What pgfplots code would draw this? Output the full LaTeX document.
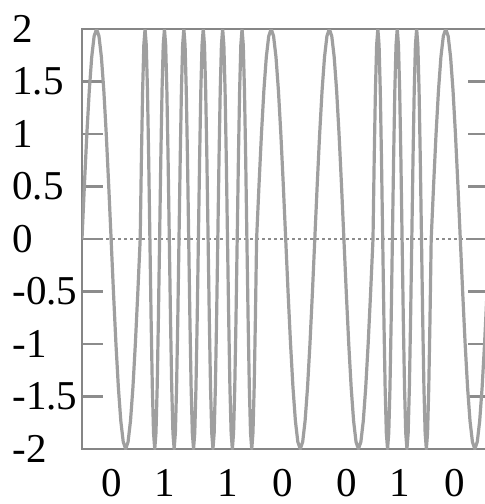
\documentclass[border=0pt]{standalone}
\usepackage{fontspec}
\setmainfont{Liberation Serif}
\usepackage{pgfplots}
\pgfplotsset{compat=1.18}
\begin{document}
\begin{tikzpicture}
\useasboundingbox (-41pt,-27.5pt) rectangle (201.5pt,224.5pt);
\begin{axis}[
  at={(0,0)}, anchor=south west,
  scale only axis, width=203.7pt, height=210pt,
  xmin=0, xmax=336, ymin=-2, ymax=2,
  axis line style={draw=gray!95, line width=1.3pt},
  xtick={24.5,68.5,120.4,165.8,218.3,262.3,307.6},
  xticklabels={0,1,1,0,0,1,0},
  xtick style={draw=none},
  ytick={-2,-1.5,-1,-0.5,0,0.5,1,1.5,2},
  yticklabels={-2,-1.5,-1,-0.5,0,0.5,1,1.5,2},
  ytick style={draw=gray!90, line width=1.2pt},
  major tick length=10.5pt,
  tick align=inside,
  yticklabel style={anchor=west, inner sep=0pt, xshift=-35pt, font=\fontsize{20.5}{22}\selectfont},
  xticklabel style={anchor=center, inner sep=0pt, yshift=-17pt, font=\fontsize{20.5}{22}\selectfont},
  clip=true,
]
\addplot[gray!90, dash pattern=on 1.5pt off 1.5pt, line width=1.1pt] coordinates {(0,0) (336,0)};
\addplot[gray!75, line width=1.6pt, line join=round] coordinates {
(0,0) (2,0.518) (4,1) (6,1.414) (8,1.732) (10,1.932) (12,2) (14,1.932) (16,1.732) (18,1.414) (20,1) (22,0.518)
(24,0) (26,-0.518) (28,-1) (30,-1.414) (32,-1.732) (34,-1.932) (36,-2) (38,-1.932) (40,-1.732) (42,-1.414) (44,-1) (46,-0.518)
(48,0) (49,0.765) (50,1.414) (51,1.848) (52,2) (53,1.848) (54,1.414) (55,0.765) (56,0) (57,-0.765) (58,-1.414) (59,-1.848) (60,-2) (61,-1.848) (62,-1.414) (63,-0.765)
(64,0) (65,0.765) (66,1.414) (67,1.848) (68,2) (69,1.848) (70,1.414) (71,0.765) (72,0) (73,-0.765) (74,-1.414) (75,-1.848) (76,-2) (77,-1.848) (78,-1.414) (79,-0.765)
(80,0) (81,0.765) (82,1.414) (83,1.848) (84,2) (85,1.848) (86,1.414) (87,0.765) (88,0) (89,-0.765) (90,-1.414) (91,-1.848) (92,-2) (93,-1.848) (94,-1.414) (95,-0.765)
(96,0) (97,0.765) (98,1.414) (99,1.848) (100,2) (101,1.848) (102,1.414) (103,0.765) (104,0) (105,-0.765) (106,-1.414) (107,-1.848) (108,-2) (109,-1.848) (110,-1.414) (111,-0.765)
(112,0) (113,0.765) (114,1.414) (115,1.848) (116,2) (117,1.848) (118,1.414) (119,0.765) (120,0) (121,-0.765) (122,-1.414) (123,-1.848) (124,-2) (125,-1.848) (126,-1.414) (127,-0.765)
(128,0) (129,0.765) (130,1.414) (131,1.848) (132,2) (133,1.848) (134,1.414) (135,0.765) (136,0) (137,-0.765) (138,-1.414) (139,-1.848) (140,-2) (141,-1.848) (142,-1.414) (143,-0.765)
(144,0) (146,0.518) (148,1) (150,1.414) (152,1.732) (154,1.932) (156,2) (158,1.932) (160,1.732) (162,1.414) (164,1) (166,0.518)
(168,0) (170,-0.518) (172,-1) (174,-1.414) (176,-1.732) (178,-1.932) (180,-2) (182,-1.932) (184,-1.732) (186,-1.414) (188,-1) (190,-0.518)
(192,0) (194,0.518) (196,1) (198,1.414) (200,1.732) (202,1.932) (204,2) (206,1.932) (208,1.732) (210,1.414) (212,1) (214,0.518)
(216,0) (218,-0.518) (220,-1) (222,-1.414) (224,-1.732) (226,-1.932) (228,-2) (230,-1.932) (232,-1.732) (234,-1.414) (236,-1) (238,-0.518)
(240,0) (241,0.765) (242,1.414) (243,1.848) (244,2) (245,1.848) (246,1.414) (247,0.765) (248,0) (249,-0.765) (250,-1.414) (251,-1.848) (252,-2) (253,-1.848) (254,-1.414) (255,-0.765)
(256,0) (257,0.765) (258,1.414) (259,1.848) (260,2) (261,1.848) (262,1.414) (263,0.765) (264,0) (265,-0.765) (266,-1.414) (267,-1.848) (268,-2) (269,-1.848) (270,-1.414) (271,-0.765)
(272,0) (273,0.765) (274,1.414) (275,1.848) (276,2) (277,1.848) (278,1.414) (279,0.765) (280,0) (281,-0.765) (282,-1.414) (283,-1.848) (284,-2) (285,-1.848) (286,-1.414) (287,-0.765)
(288,0) (290,0.518) (292,1) (294,1.414) (296,1.732) (298,1.932) (300,2) (302,1.932) (304,1.732) (306,1.414) (308,1) (310,0.518)
(312,0) (314,-0.518) (316,-1) (318,-1.414) (320,-1.732) (322,-1.932) (324,-2) (326,-1.932) (328,-1.732) (330,-1.414) (332,-1) (334,-0.518)
(336,0)
};
\end{axis}
\end{tikzpicture}
\end{document}
